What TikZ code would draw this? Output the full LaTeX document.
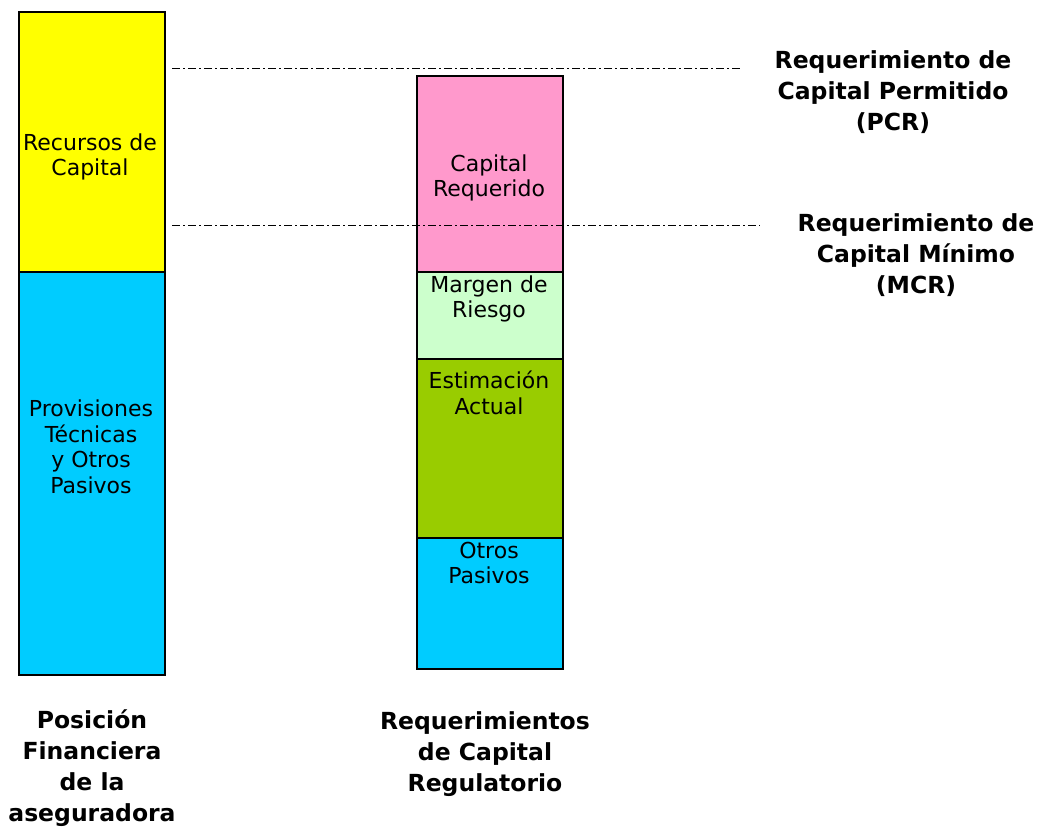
\documentclass[tikz,border=0pt]{standalone}
\usepackage{fontspec}
\setmainfont{DejaVu Sans}
\definecolor{cyanb}{HTML}{00CCFF}
\definecolor{yel}{HTML}{FFFF00}
\definecolor{pinkb}{HTML}{FF99CC}
\definecolor{lgreen}{HTML}{CCFFCC}
\definecolor{dgreen}{HTML}{99CC00}
\begin{document}
\begin{tikzpicture}[x=1pt,y=-1pt,
  seg/.style={draw=black,line width=1.6pt,anchor=north west,inner sep=0pt,minimum width=146pt},
  lab/.style={align=center,inner sep=0pt,font=\fontsize{22}{25.5}\selectfont},
  blab/.style={align=center,inner sep=0pt,font=\fontsize{23.5}{31}\selectfont\bfseries},
  ref/.style={line width=0.9pt,dash pattern=on 8pt off 3pt on 2pt off 3pt}]
\useasboundingbox (0,0) rectangle (1040,827);
% left bar
\node[seg,fill=yel,minimum height=260pt] (rc) at (18,11) {};
\node[seg,fill=cyanb,minimum height=403pt] (pt) at (18,271) {};
% right bar
\node[seg,fill=pinkb,minimum height=196pt] (cr) at (416,75) {};
\node[seg,fill=lgreen,minimum height=87pt] (mr) at (416,271) {};
\node[seg,fill=dgreen,minimum height=179pt] (ea) at (416,358) {};
\node[seg,fill=cyanb,minimum height=131pt] (op) at (416,537) {};
% labels in bars
\node[lab] (t1) at (90,157) {Recursos de\\Capital};
\node[lab] (t2) at (91,447) {Provisiones\\Técnicas\\y Otros\\Pasivos};
\node[lab] (t3) at (489,178) {Capital\\Requerido};
\node[lab] (t4) at (489,299) {Margen de\\Riesgo};
\node[lab] (t5) at (489,393) {Estimación\\Actual};
\node[lab] (t6) at (489,563) {Otros\\Pasivos};
% right labels
\node[blab] (pcr) at (893,92) {Requerimiento de\\Capital Permitido\\(PCR)};
\node[blab] (mcr) at (916,255) {Requerimiento de\\Capital Mínimo\\(MCR)};
% bottom labels
\node[blab] (pf) at (92,768) {Posición\\Financiera\\de la\\aseguradora};
\node[blab] (rq) at (485,754) {Requerimientos\\de Capital\\Regulatorio};
% reference lines
\coordinate (a1) at (172,68);
\coordinate (a2) at (740,68);
\coordinate (b1) at (172,225);
\coordinate (b2) at (760,225);
\draw[ref] (a1) -- (a2);
\draw[ref] (b1) -- (b2);
\end{tikzpicture}
\end{document}
